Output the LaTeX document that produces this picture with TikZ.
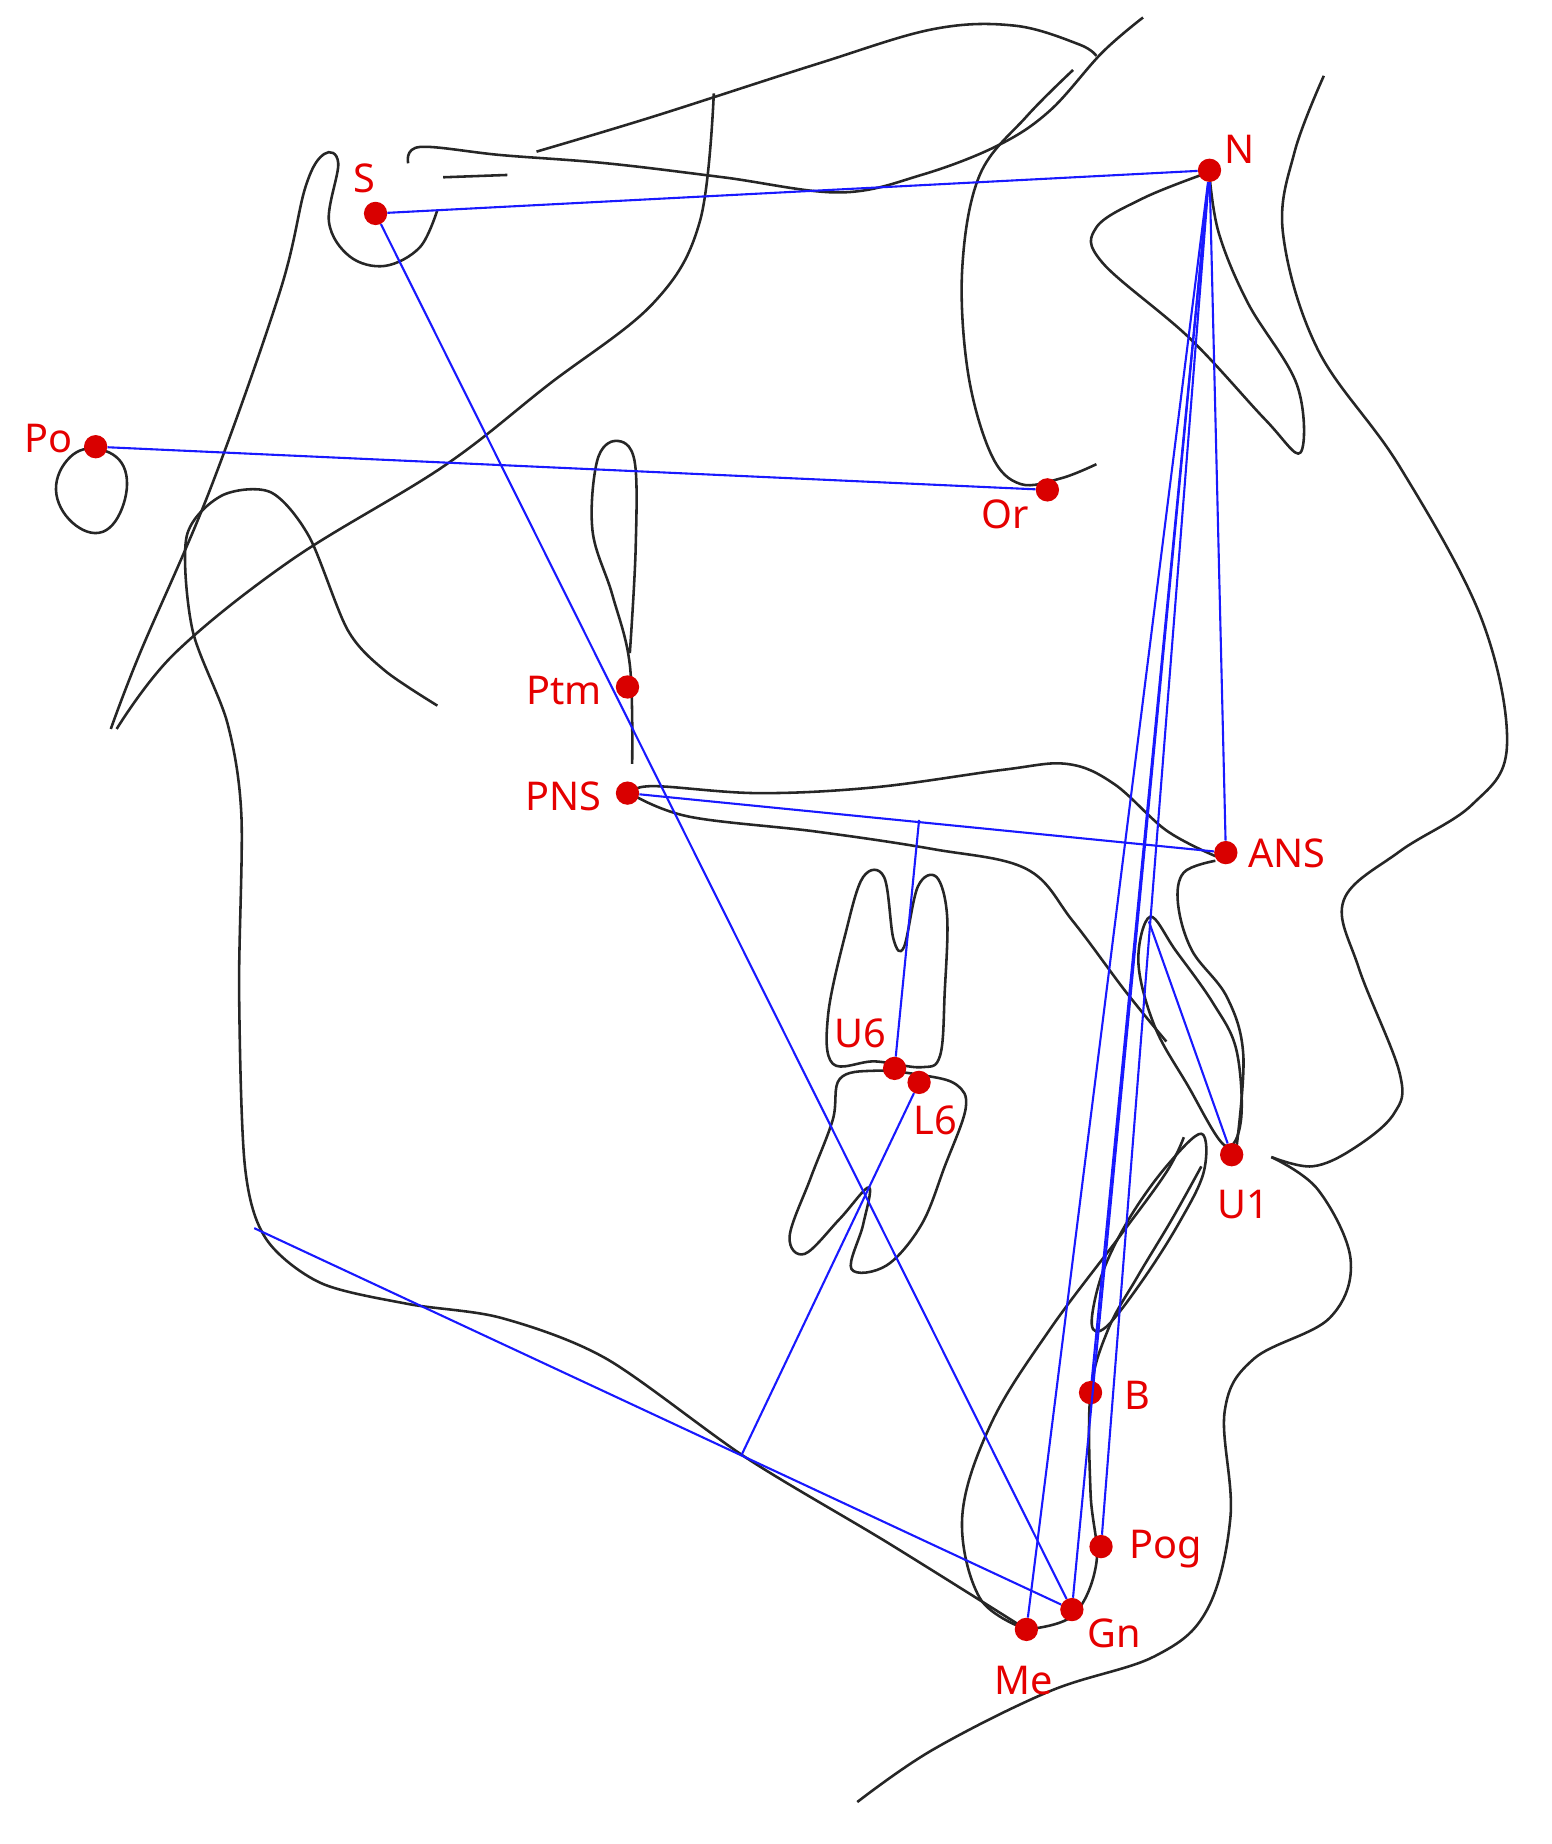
\documentclass[tikz,border=0pt]{standalone}
\usepackage{fontspec}
\setmainfont{Noto Sans}
\begin{document}
\begin{tikzpicture}[x=1pt,y=-1pt,
  contour/.style={draw=black!85,line width=2.2pt,line join=round},
  meas/.style={draw=blue!90,line width=1.8pt},
  lm/.style={circle,fill=red!85!black,inner sep=0pt,minimum size=20pt},
  lab/.style={text=red!90!black,font=\fontsize{34}{38}\selectfont,inner sep=2pt}]
\useasboundingbox (0,0) rectangle (1330,1581);
% contours
\draw[contour] plot[smooth,tension=0.6] coordinates {(95,625)(120,560)(180,420)(240,250)(262,160)(278,132)(290,140)(282,190)(300,220)(330,228)(360,212)(375,180)};
\draw[contour] plot[smooth,tension=0.6] coordinates {(100,625)(150,560)(250,480)(380,400)(470,330)(560,260)(600,190)(612,80)};
\draw[contour] plot[smooth,tension=0.6] coordinates {(350,140)(360,126)(430,133)(520,140)(620,152)(720,165)(790,150)(855,125)(900,95)(945,45)(980,15)};
\draw[contour] plot[smooth,tension=0.6] coordinates {(460,130)(560,100)(700,55)(800,25)(870,22)(925,38)(940,48)};
\draw[contour] (380,152) -- (435,150);
\draw[contour] plot[smooth cycle,tension=0.7] coordinates {(84,385)(60,392)(48,420)(62,448)(88,456)(106,432)(106,400)};
\draw[contour] plot[smooth,tension=0.6] coordinates {(920,60)(880,100)(840,150)(825,230)(830,320)(850,390)(875,415)(910,410)(940,398)};
\draw[contour] plot[smooth,tension=0.6] coordinates {(1135,65)(1110,130)(1100,200)(1130,300)(1200,400)(1270,530)(1292,640)(1262,690)(1200,730)(1152,772)(1165,830)(1200,920)(1195,955)(1160,985)(1125,1000)(1090,992)};
\draw[contour] plot[smooth,tension=0.6] coordinates {(1090,992)(1130,1020)(1158,1080)(1140,1130)(1075,1165)(1050,1210)(1055,1300)(1035,1380)(990,1420)(900,1450)(800,1500)(735,1545)};
\draw[contour] plot[smooth,tension=0.6] coordinates {(1030,150)(980,170)(940,195)(945,225)(1020,290)(1085,360)(1115,388)(1112,330)(1070,260)(1045,200)(1037,150)};
\draw[contour] plot[smooth,tension=0.6] coordinates {(542,655)(540,570)(525,510)(508,455)(512,395)(528,378)(544,395)(545,470)(540,560)};
\draw[contour] plot[smooth,tension=0.5] coordinates {(375,605)(330,575)(298,540)(265,460)(232,422)(190,425)(160,460)(165,540)(195,620)(207,700)(205,850)(210,1000)(228,1062)(275,1100)(350,1118)(430,1130)(520,1165)(640,1250)(760,1322)(880,1397)};
\draw[contour] plot[smooth,tension=0.6] coordinates {(880,1397)(920,1385)(940,1340)(935,1280)(935,1194)(950,1140)(975,1095)(1005,1045)(1030,1000)};
\draw[contour] plot[smooth,tension=0.6] coordinates {(880,1397)(840,1370)(825,1300)(850,1220)(900,1140)(960,1060)(1000,1005)(1015,975)};
\draw[contour] plot[smooth,tension=0.6] coordinates {(540,680)(560,674)(650,680)(750,675)(860,660)(915,655)(955,672)(1000,712)(1042,734)};
\draw[contour] plot[smooth,tension=0.6] coordinates {(540,680)(590,700)(700,713)(800,728)(880,745)(920,790)(965,850)(1000,893)};
\draw[contour] plot[smooth,tension=0.6] coordinates {(1042,738)(1015,748)(1010,775)(1022,815)(1052,855)(1066,905)(1060,985)};
\draw[contour] plot[smooth cycle,tension=0.6] coordinates {(986,786)(976,825)(990,880)(1018,930)(1050,982)(1064,960)(1060,900)(1040,860)(1008,815)};
\draw[contour] plot[smooth cycle,tension=0.6] coordinates {(1030,972)(1000,1000)(968,1045)(945,1092)(936,1135)(948,1138)(978,1100)(1010,1050)(1032,1005)};
\draw[contour] plot[smooth cycle,tension=0.6] coordinates {(714,912)(710,870)(725,800)(740,752)(758,752)(766,805)(775,812)(787,760)(803,752)(812,785)(810,850)(806,905)(790,915)(750,910)};
\draw[contour] plot[smooth cycle,tension=0.6] coordinates {(720,925)(750,918)(792,922)(820,930)(828,950)(810,1000)(790,1050)(760,1085)(730,1088)(740,1050)(745,1018)(720,1045)(690,1075)(677,1060)(695,1010)(714,960)};
% landmarks
\node[lm] (S) at (322,183) {}; \node[lab,anchor=south] at (312,168) {S};
\node[lm] (N) at (1037,146) {}; \node[lab,anchor=west] at (1048,128) {N};
\node[lm] (Po) at (82,383) {}; \node[lab,anchor=east] at (64,376) {Po};
\node[lm] (Or) at (898,420) {}; \node[lab,anchor=north] at (862,426) {Or};
\node[lm] (Ptm) at (538,589) {}; \node[lab,anchor=east] at (518,592) {Ptm};
\node[lm] (PNS) at (538,680) {}; \node[lab,anchor=east] at (518,683) {PNS};
\node[lm] (ANS) at (1051,731) {}; \node[lab,anchor=west] at (1068,732) {ANS};
\node[lm] (U6) at (767,916) {}; \node[lab,anchor=south] at (738,901) {U6};
\node[lm] (L6) at (788,928) {}; \node[lab,anchor=north] at (802,946) {L6};
\node[lm] (U1) at (1056,990) {}; \node[lab,anchor=north] at (1066,1018) {U1};
\node[lm] (B) at (935,1194) {}; \node[lab,anchor=west] at (962,1196) {B};
\node[lm] (Pog) at (944,1326) {}; \node[lab,anchor=west] at (966,1328) {Pog};
\node[lm] (Gn) at (919,1380) {}; \node[lab,anchor=north] at (955,1386) {Gn};
\node[lm] (Me) at (880,1397) {}; \node[lab,anchor=north] at (878,1426) {Me};
\coordinate (Go) at (218,1053);
\coordinate (P6) at (788,703);
\coordinate (M6) at (636,1247);
\coordinate (U1a) at (985,790);
% measurement lines
\draw[meas] (S) -- (N);
\draw[meas] (S) -- (Gn);
\draw[meas] (Po) -- (Or);
\draw[meas] (PNS) -- (ANS);
\draw[meas] (N) -- (ANS);
\draw[meas] (N) -- (B);
\draw[meas] (N) -- (Pog);
\draw[meas] (N) -- (Gn);
\draw[meas] (N) -- (Me);
\draw[meas] (Go) -- (Gn);
\draw[meas] (P6) -- (U6);
\draw[meas] (L6) -- (M6);
\draw[meas] (U1a) -- (U1);
\end{tikzpicture}
\end{document}
